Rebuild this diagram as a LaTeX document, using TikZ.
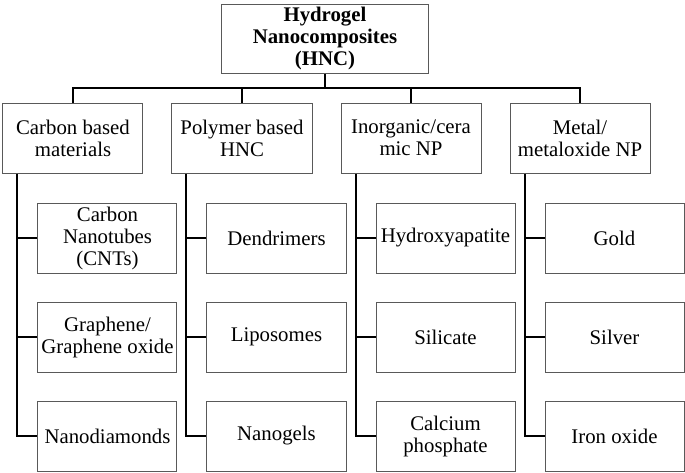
\documentclass[tikz,border=0pt]{standalone}
\usepackage{fontspec}
\setmainfont{LiberationSerif}[Extension=.ttf, UprightFont=*-Regular, BoldFont=*-Bold, ItalicFont=*-Italic, BoldItalicFont=*-BoldItalic]
\usepackage{tikz}
\usetikzlibrary{
	arrows,calc,shapes,positioning
}
\tikzstyle{root} = [rectangle, minimum width=103pt, minimum height=34.5pt, text centered, draw=black!65, line width=0.5pt, align=center, inner sep=1pt]
\tikzstyle{category} = [rectangle, minimum width=70pt, minimum height=35pt, text centered, draw=black!65, line width=0.5pt, align=center, inner sep=1pt]
\tikzstyle{leaf} = [rectangle, minimum width=69.5pt, minimum height=35pt, text centered, draw=black!65, line width=0.5pt, align=center, inner sep=1pt]
\tikzstyle{link} = [draw=black, line width=1pt]

\begin{document}
\begin{tikzpicture}  [node distance=14pt, font=\fontsize{10.4}{11}\selectfont]
			\useasboundingbox (-162.5pt,-216.75pt) rectangle (180pt,19.25pt);
			\node[root] (hnc){\textbf{Hydrogel}\\\textbf{Nanocomposites}\\\textbf{(HNC)}};
			
			\node[category, below=14.5pt of hnc, xshift=-126pt] (carbon) {Carbon based\\materials};
			\node[category, right=of carbon] (polymer) {Polymer based\\HNC};
			\node[category, right=of polymer] (inorg) {Inorganic/cera\\mic NP};
			\node[category, right=of inorg] (metal) {Metal/\\metaloxide NP};
			
			\node[leaf, below=14.5pt of carbon, xshift=17.25pt] (cnt) {Carbon\\Nanotubes\\(CNTs)};
			\node[leaf, below=of cnt] (graphene) {Graphene/\\Graphene oxide};
			\node[leaf, below=of graphene] (diamond) {Nanodiamonds};
			
			\node[leaf, below=14.5pt of polymer, xshift=17.25pt] (dendri) {Dendrimers};
			\node[leaf, below=of dendri] (lipo) {Liposomes};
			\node[leaf, below=of lipo] (nanogel) {Nanogels};
			
			\node[leaf, below=14.5pt of inorg, xshift=17.25pt] (hydroxy) {Hydroxyapatite};
			\node[leaf, below=of hydroxy] (silicate) {Silicate};
			\node[leaf, below=of silicate] (calcium) {Calcium\\phosphate};
			
			\node[leaf, below=14.5pt of metal, xshift=17.25pt] (gold) {Gold};
			\node[leaf, below=of gold] (silver) {Silver};
			\node[leaf, below=of silver] (iron) {Iron oxide};
			
			%lines
			\coordinate (bus) at ($(hnc.south)+(0,-7pt)$);
			\draw [link] (hnc.south) -- (bus);
			\draw [link] (carbon.north) |- (bus) -| (metal.north);
			\draw [link] (polymer.north) -- (polymer.north |- bus);
			\draw [link] (inorg.north) -- (inorg.north |- bus);
			
			\coordinate (t1) at ([xshift=7.5pt]carbon.south west);
			\coordinate (t2) at ([xshift=7.5pt]polymer.south west);
			\coordinate (t3) at ([xshift=7.5pt]inorg.south west);
			\coordinate (t4) at ([xshift=7.5pt]metal.south west);
			
			\draw [link] (t1) |- (diamond.west);
			\draw [link] (cnt.west) -- (cnt.west -| t1);
			\draw [link] (graphene.west) -- (graphene.west -| t1);
			
			\draw [link] (t2) |- (nanogel.west);
			\draw [link] (dendri.west) -- (dendri.west -| t2);
			\draw [link] (lipo.west) -- (lipo.west -| t2);
			
			\draw [link] (t3) |- (calcium.west);
			\draw [link] (hydroxy.west) -- (hydroxy.west -| t3);
			\draw [link] (silicate.west) -- (silicate.west -| t3);
			
			\draw [link] (t4) |- (iron.west);
			\draw [link] (gold.west) -- (gold.west -| t4);
			\draw [link] (silver.west) -- (silver.west -| t4);
			
			%	
		\end{tikzpicture}
\end{document}
